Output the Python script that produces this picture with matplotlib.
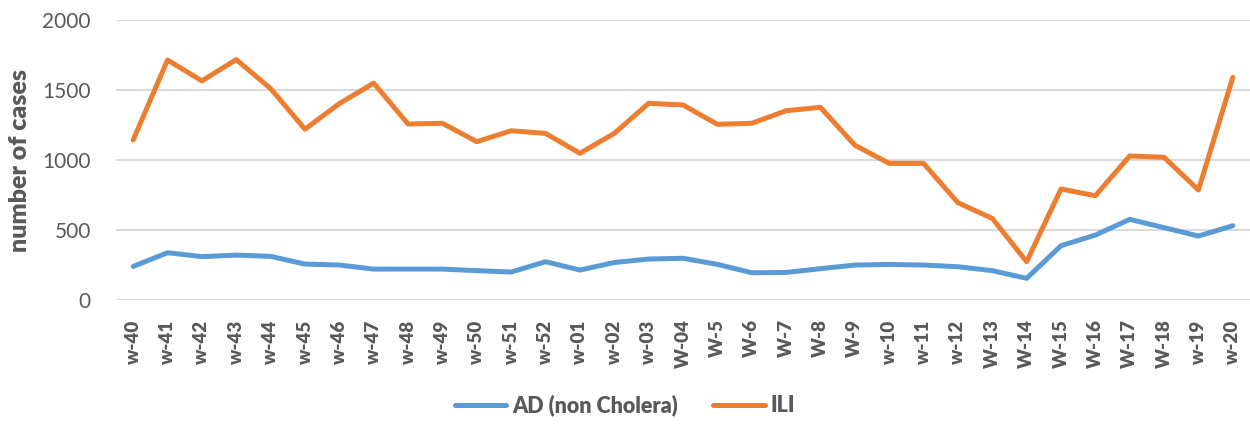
import matplotlib.pyplot as plt

weeks = ['w-40', 'w-41', 'w-42', 'w-43', 'w-44', 'w-45', 'w-46', 'w-47', 'w-48', 'w-49',
         'w-50', 'w-51', 'w-52', 'w-01', 'w-02', 'w-03', 'W-04', 'W-5', 'W-6', 'W-7',
         'W-8', 'W-9', 'w-10', 'w-11', 'w-12', 'W-13', 'W-14', 'W-15', 'W-16', 'W-17',
         'W-18', 'w-19', 'w-20']

ad = [240, 338, 310, 321, 312, 257, 250, 221, 221, 221,
      210, 200, 274, 214, 268, 293, 298, 255, 195, 197,
      224, 250, 254, 250, 238, 210, 155, 388, 464, 576,
      517, 457, 531]

ili = [1143, 1714, 1565, 1717, 1510, 1220, 1403, 1549, 1257, 1262,
       1131, 1209, 1190, 1048, 1190, 1405, 1393, 1255, 1262, 1352,
       1376, 1106, 976, 976, 695, 583, 274, 793, 745, 1029,
       1019, 786, 1590]

plt.rcParams['font.family'] = ['Lato', 'DejaVu Sans']
grey = '#595959'

fig = plt.figure(figsize=(12.5, 4.25), dpi=100)
ax = fig.add_axes([0.0928, 0.294, 0.9072, 0.659])

x = range(len(weeks))
ax.plot(x, ad, color='#5B9BD5', lw=3.6, label='AD (non Cholera)', solid_capstyle='round')
ax.plot(x, ili, color='#ED7D31', lw=3.6, label='ILI', solid_capstyle='round')

ax.set_xlim(-0.5, len(weeks) - 0.5)
ax.set_ylim(0, 2000)
ax.set_yticks([0, 500, 1000, 1500, 2000])
ax.set_xticks(list(x))
ax.set_xticklabels(weeks, rotation=90, fontweight='heavy')
ax.tick_params(axis='x', length=0, pad=14, labelsize=13.5, labelcolor=grey)
ax.tick_params(axis='y', length=0, pad=18, labelsize=15, labelcolor=grey)
ax.grid(axis='y', color='#D9D9D9', lw=1.4)
ax.set_axisbelow(True)
for s in ax.spines.values():
    s.set_visible(False)

ax.set_ylabel('number of cases', fontsize=18, fontweight='heavy', color=grey, labelpad=8)

fig.legend(loc='lower center', bbox_to_anchor=(0.5, -0.025), ncol=2, frameon=False,
           prop={'size': 15.5, 'weight': 'heavy'}, labelcolor=grey,
           handlelength=2.4, columnspacing=1.6, handletextpad=0.3)

fig.savefig('out.png', dpi=100)
